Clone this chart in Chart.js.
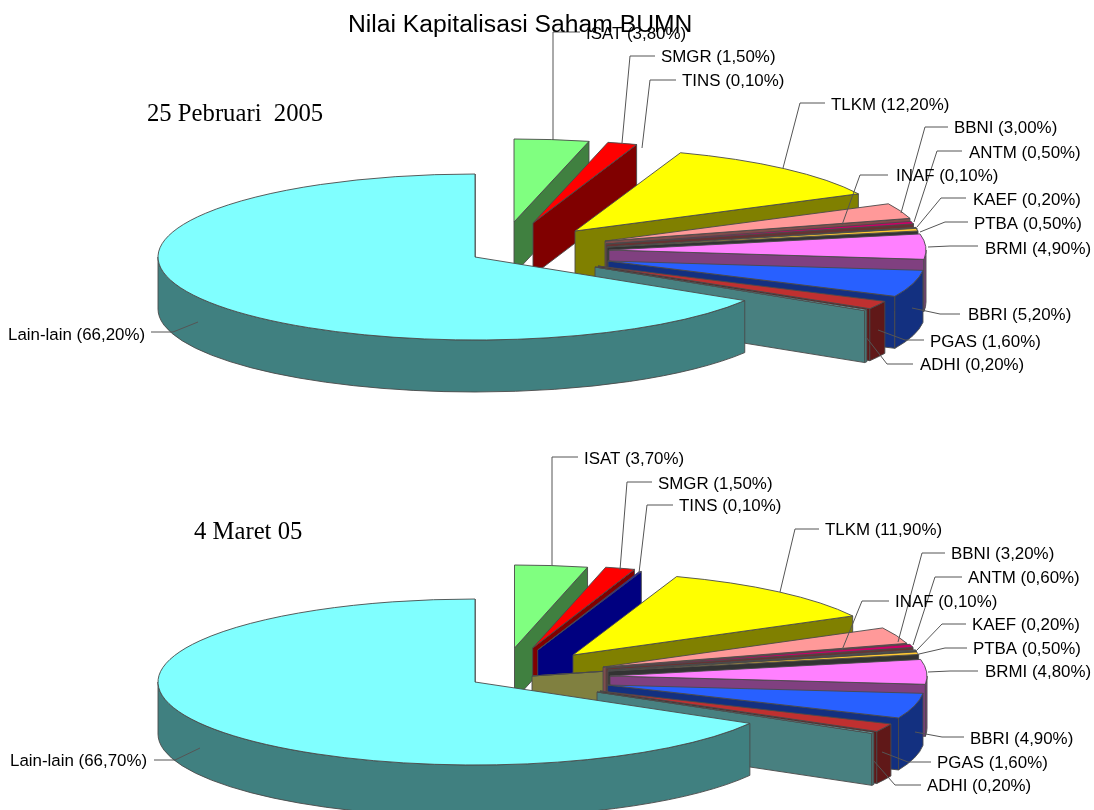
<!DOCTYPE html>
<html>
<head>
<meta charset="utf-8">
<title>Nilai Kapitalisasi Saham BUMN</title>
<script src="https://cdn.jsdelivr.net/npm/chart.js@4"></script>
<style>
  html, body { margin: 0; padding: 0; background: #fff; overflow: hidden; }
  canvas { display: block; }
</style>
</head>
<body>
<canvas id="chartFeb" width="1094" height="405"></canvas>
<canvas id="chartMar" width="1094" height="405"></canvas>
<script>
const emiten = ['ISAT', 'SMGR', 'TINS', 'TLKM', 'BBNI', 'ANTM', 'INAF', 'KAEF', 'PTBA', 'BRMI', 'BBRI', 'PGAS', 'ADHI', 'Lain-lain'];
const nilaiFeb = [3.8, 1.5, 0.1, 12.2, 3.0, 0.5, 0.1, 0.2, 0.5, 4.9, 5.2, 1.6, 0.2, 66.2];
const nilaiMar = [3.7, 1.5, 0.1, 11.9, 3.2, 0.6, 0.1, 0.2, 0.5, 4.8, 4.9, 1.6, 0.2, 66.7];

const warnaAtas = ['#80ff80', '#ff0000', '#0000ff', '#ffff00', '#ff9999', '#cc0066', '#ffff80', '#666666', '#ffc933', '#ff80ff', '#2860ff', '#c03030', '#80ffff', '#80ffff'];
const warnaSisi = ['#408040', '#800000', '#000080', '#808000', '#804c4c', '#663333', '#808040', '#333333', '#333333', '#804080', '#133080', '#601818', '#488080', '#408080'];

// pie size on the page
const rx = 317, ry = 83, tebal = 52;

// explosion of each slice from the pie centre, px
const geserFeb = [[39,-35],[58,-34],[0,0],[100,-26],[130,-16],[131,-13],[0,0],[133,-10],[132,-10],[134,-7],[133,4],[123,9],[120,10],[0,0]];
const geserMar = [[39.5,-34],[57.7,-34],[62.7,-32],[98,-27],[128,-15],[131,-14],[57,-6],[133,-12],[133,-11],[135,-6],[132.6,3],[125,9],[122,10],[0,0]];

// label position and leader line for each slice: [textX, textY, x1,y1, x2,y2, x3,y3]
const labelFeb = [
  [586,33, 553,140, 553,32, 580,32],
  [661,56, 622,143, 630,56, 655,56],
  [682,80, 642,148, 650,80, 676,80],
  [831,104, 783,168, 800,103, 825,103],
  [954,127, 901,213, 925,127, 948,127],
  [969,152, 914,222, 937,151, 962,151],
  [896,175, 842,225, 860,175, 888,175],
  [973,199, 917,227, 941,198, 966,198],
  [974,223, 920,232, 945,222, 968,222],
  [985,248, 928,247, 950,246, 978,246],
  [968,314, 912,308, 940,314, 960,314],
  [930,341, 878,330, 905,340, 924,340],
  [920,364, 866,337, 887,364, 913,364],
  [8,334, 198,322, 173,332, 151,332]
];
const labelMar = [
  [584,458, 552,566, 552,457, 578,457],
  [658,483, 620,570, 627,482, 652,482],
  [679,505, 639,573, 647,505, 673,505],
  [825,529, 780,592, 795,529, 819,529],
  [951,553, 898,642, 922,553, 945,553],
  [968,577, 913,645, 935,577, 962,577],
  [895,601, 842,650, 862,601, 889,601],
  [972,624, 917,650, 942,624, 966,624],
  [973,648, 919,654, 945,648, 967,648],
  [985,671, 928,672, 950,671, 978,671],
  [970,738, 915,732, 942,737, 964,737],
  [937,762, 882,752, 908,762, 931,762],
  [927,785, 873,760, 895,785, 921,785],
  [10,760, 200,748, 175,760, 154,760]
];

// back to front; INAF sits behind BBNI and the thin slices
const urutan = [0, 1, 2, 3, 6, 4, 5, 7, 8, 9, 10, 11, 12, 13];

function pie3d(cfg) {
  return {
    id: 'pie3d',
    beforeDatasetsDraw(chart) {
      const ctx = chart.ctx;
      const arcs = chart.getDatasetMeta(0).data;
      urutan.forEach(i => {
        if (cfg.sembunyi.includes(emiten[i])) return;
        const arc = arcs[i];
        const a = arc.startAngle, b = arc.endAngle;
        const cx = cfg.x + cfg.geser[i][0], cy = cfg.y + cfg.geser[i][1];
        const ex = cx + rx * Math.cos(b), ey = cy + ry * Math.sin(b);

        ctx.save();
        ctx.lineWidth = 0.9;
        ctx.strokeStyle = '#4a4a4a';
        ctx.fillStyle = warnaSisi[i];

        // cut face at the end angle
        ctx.beginPath();
        ctx.moveTo(cx, cy);
        ctx.lineTo(ex, ey);
        ctx.lineTo(ex, ey + tebal);
        ctx.lineTo(cx, cy + tebal);
        ctx.closePath();
        ctx.fill();
        ctx.stroke();

        // rim, only the part facing the viewer
        const a1 = Math.max(a, 0), b1 = Math.min(b, Math.PI);
        if (b1 > a1) {
          ctx.beginPath();
          ctx.ellipse(cx, cy, rx, ry, 0, a1, b1);
          ctx.ellipse(cx, cy + tebal, rx, ry, 0, b1, a1, true);
          ctx.closePath();
          ctx.fill();
          ctx.stroke();
        }

        // top face is the library's own arc, squashed
        ctx.save();
        ctx.translate(cx, cy);
        ctx.scale(rx / arc.outerRadius, ry / arc.outerRadius);
        ctx.translate(-arc.x, -arc.y);
        arc.draw(ctx);
        ctx.restore();

        ctx.beginPath();
        ctx.moveTo(cx, cy);
        ctx.ellipse(cx, cy, rx, ry, 0, a, b);
        ctx.closePath();
        ctx.stroke();
        ctx.restore();
      });
      return false;
    },
    afterDraw(chart) {
      const ctx = chart.ctx;
      ctx.save();
      ctx.textBaseline = 'middle';
      ctx.textAlign = 'left';
      cfg.label.forEach((l, i) => {
        ctx.strokeStyle = '#555555';
        ctx.lineWidth = 1;
        ctx.beginPath();
        ctx.moveTo(l[2], l[3] - cfg.top);
        ctx.lineTo(l[4], l[5] - cfg.top);
        ctx.lineTo(l[6], l[7] - cfg.top);
        ctx.stroke();
        ctx.fillStyle = '#000';
        ctx.font = '16.9px "Liberation Sans"';
        ctx.fillText(emiten[i] + ' (' + cfg.nilai[i].toFixed(2).replace('.', ',') + '%)', l[0], l[1] + 1 - cfg.top);
      });
      ctx.font = '24.7px "Liberation Serif"';
      ctx.fillText(cfg.tanggal[0], cfg.tanggal[1], cfg.tanggal[2] + 1 - cfg.top);
      if (cfg.judul) {
        ctx.font = '24.7px "Liberation Sans"';
        ctx.fillText(cfg.judul, 348, 25);
      }
      ctx.restore();
    }
  };
}

function buatChart(id, nilai, cfg) {
  cfg.nilai = nilai;
  new Chart(document.getElementById(id), {
    type: 'pie',
    data: {
      labels: emiten,
      datasets: [{ data: nilai, backgroundColor: warnaAtas, borderWidth: 0 }]
    },
    options: {
      responsive: false,
      animation: false,
      rotation: 0,
      plugins: { legend: { display: false }, tooltip: { enabled: false } }
    },
    plugins: [pie3d(cfg)]
  });
}

buatChart('chartFeb', nilaiFeb, {
  x: 475, y: 257, top: 0, geser: geserFeb, label: labelFeb,
  sembunyi: ['TINS', 'INAF'],
  tanggal: ['25 Pebruari  2005', 147, 114],
  judul: 'Nilai Kapitalisasi Saham BUMN'
});
buatChart('chartMar', nilaiMar, {
  x: 475, y: 682 - 405, top: 405, geser: geserMar, label: labelMar,
  sembunyi: [],
  tanggal: ['4 Maret 05', 194, 532]
});
</script>
</body>
</html>
